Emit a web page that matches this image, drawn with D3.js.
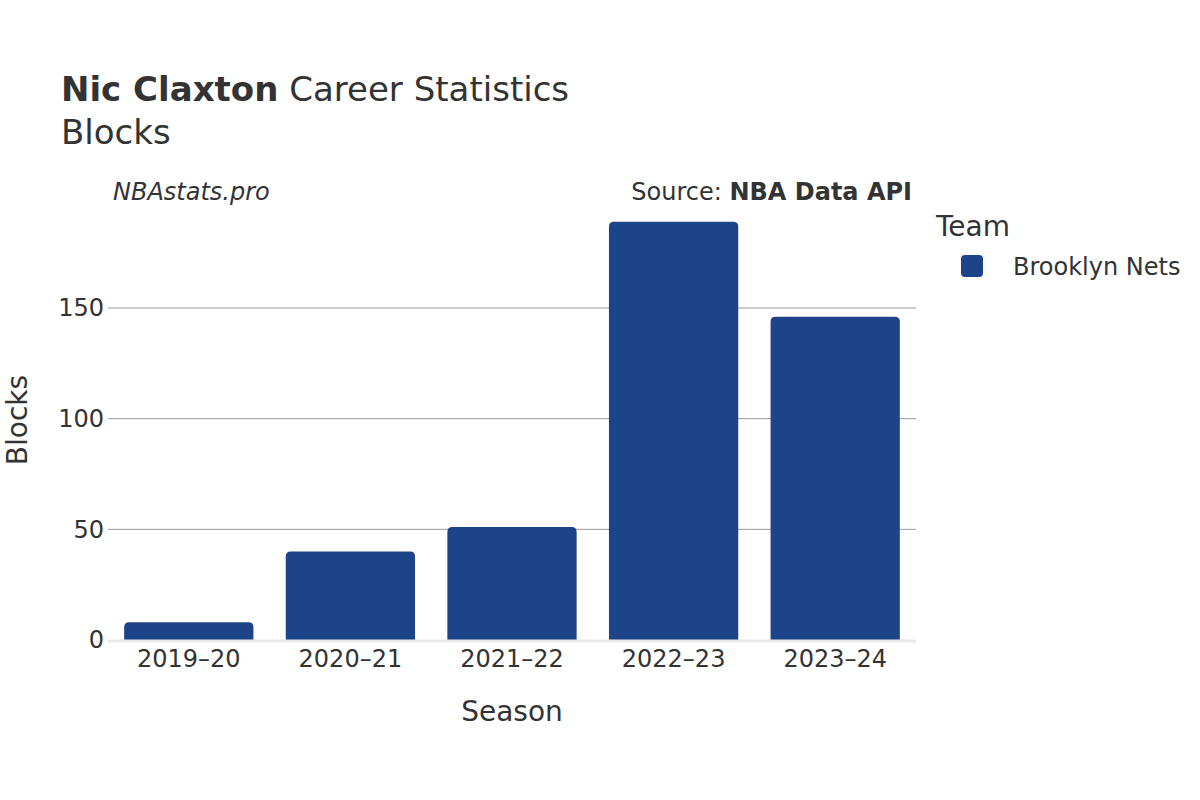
<!DOCTYPE html>
<html><head><meta charset="utf-8">
<script src="https://cdn.jsdelivr.net/npm/d3@7"></script>
<style>body{margin:0;background:#fff;} text{font-family:"DejaVu Sans",sans-serif;}</style>
</head><body><svg id="c" width="1200" height="800"></svg>
<script>
const seasons = ["2019–20","2020–21","2021–22","2022–23","2023–24"];
const blocks = [8, 40, 51, 189, 146];
const yTicks = [0, 50, 100, 150];
const team = "Brooklyn Nets";

(function(){
const svg = d3.select("#c");
const W = 1200, H = 800;
svg.append("rect").attr("width",W).attr("height",H).attr("fill","#fff");
const pL = 108, pR = 916, pB = 640;
const x = d3.scaleBand().domain(seasons).range([pL,pR]).paddingInner(0.2).paddingOuter(0.1);
const y = d3.scaleLinear().domain([0,150]).range([pB, 308]);
const col = "#1d4389", txt = "#333";

// grid
svg.append("g").selectAll("line").data(yTicks.filter(d=>d>0)).join("line")
  .attr("x1",pL).attr("x2",pR).attr("y1",d=>y(d)).attr("y2",d=>y(d))
  .attr("stroke","#999").attr("stroke-width",1);

// bars with top rounded corners
const r = 5;
svg.append("g").selectAll("path").data(seasons).join("path")
  .attr("fill",col)
  .attr("d",(s,i)=>{
    const x0=x(s), w=x.bandwidth(), y0=y(blocks[i]), y1=y(0);
    const rr=Math.min(r,(y1-y0)/2);
    return `M${x0},${y1}V${y0+rr}Q${x0},${y0} ${x0+rr},${y0}H${x0+w-rr}Q${x0+w},${y0} ${x0+w},${y0+rr}V${y1}Z`;
  });

// baseline
svg.append("line").attr("x1",pL).attr("x2",pR).attr("y1",y(0)+1).attr("y2",y(0)+1)
  .attr("stroke","#e8e8e8").attr("stroke-width",3);

// y ticks
svg.append("g").selectAll("text").data(yTicks).join("text")
  .attr("x",104).attr("y",d=>y(d)).attr("dy","0.35em").attr("text-anchor","end")
  .attr("font-size",24).attr("fill",txt).text(d=>d);
// x ticks
svg.append("g").selectAll("text").data(seasons).join("text")
  .attr("x",d=>x(d)+x.bandwidth()/2).attr("y",667).attr("text-anchor","middle")
  .attr("font-size",24).attr("fill",txt).text(d=>d);

// axis titles
svg.append("text").attr("x",512).attr("y",721).attr("text-anchor","middle")
  .attr("font-size",28).attr("fill",txt).text("Season");
svg.append("text").attr("transform","translate(17,420) rotate(-90)").attr("text-anchor","middle")
  .attr("dy","0.35em").attr("font-size",28).attr("fill",txt).text("Blocks");

// title
const t = svg.append("text").attr("x",61).attr("y",101).attr("font-size",34).attr("fill",txt);
t.append("tspan").attr("font-weight","bold").text("Nic Claxton");
t.append("tspan").text(" Career Statistics");
svg.append("text").attr("x",61).attr("y",144).attr("font-size",34).attr("fill",txt).text("Blocks");

svg.append("text").attr("x",113).attr("y",200).attr("font-size",24).attr("font-style","italic").attr("fill",txt).text("NBAstats.pro");
const s = svg.append("text").attr("x",912).attr("y",200).attr("text-anchor","end").attr("font-size",24).attr("fill",txt);
s.append("tspan").text("Source: ");
s.append("tspan").attr("font-weight","bold").text("NBA Data API");

// legend
svg.append("text").attr("x",936).attr("y",236).attr("font-size",28).attr("fill",txt).text("Team");
svg.append("rect").attr("x",961).attr("y",255).attr("width",22).attr("height",22).attr("rx",4).attr("fill",col);
svg.append("text").attr("x",1013).attr("y",275).attr("font-size",24).attr("fill",txt).text(team);
})();
</script></body></html>
